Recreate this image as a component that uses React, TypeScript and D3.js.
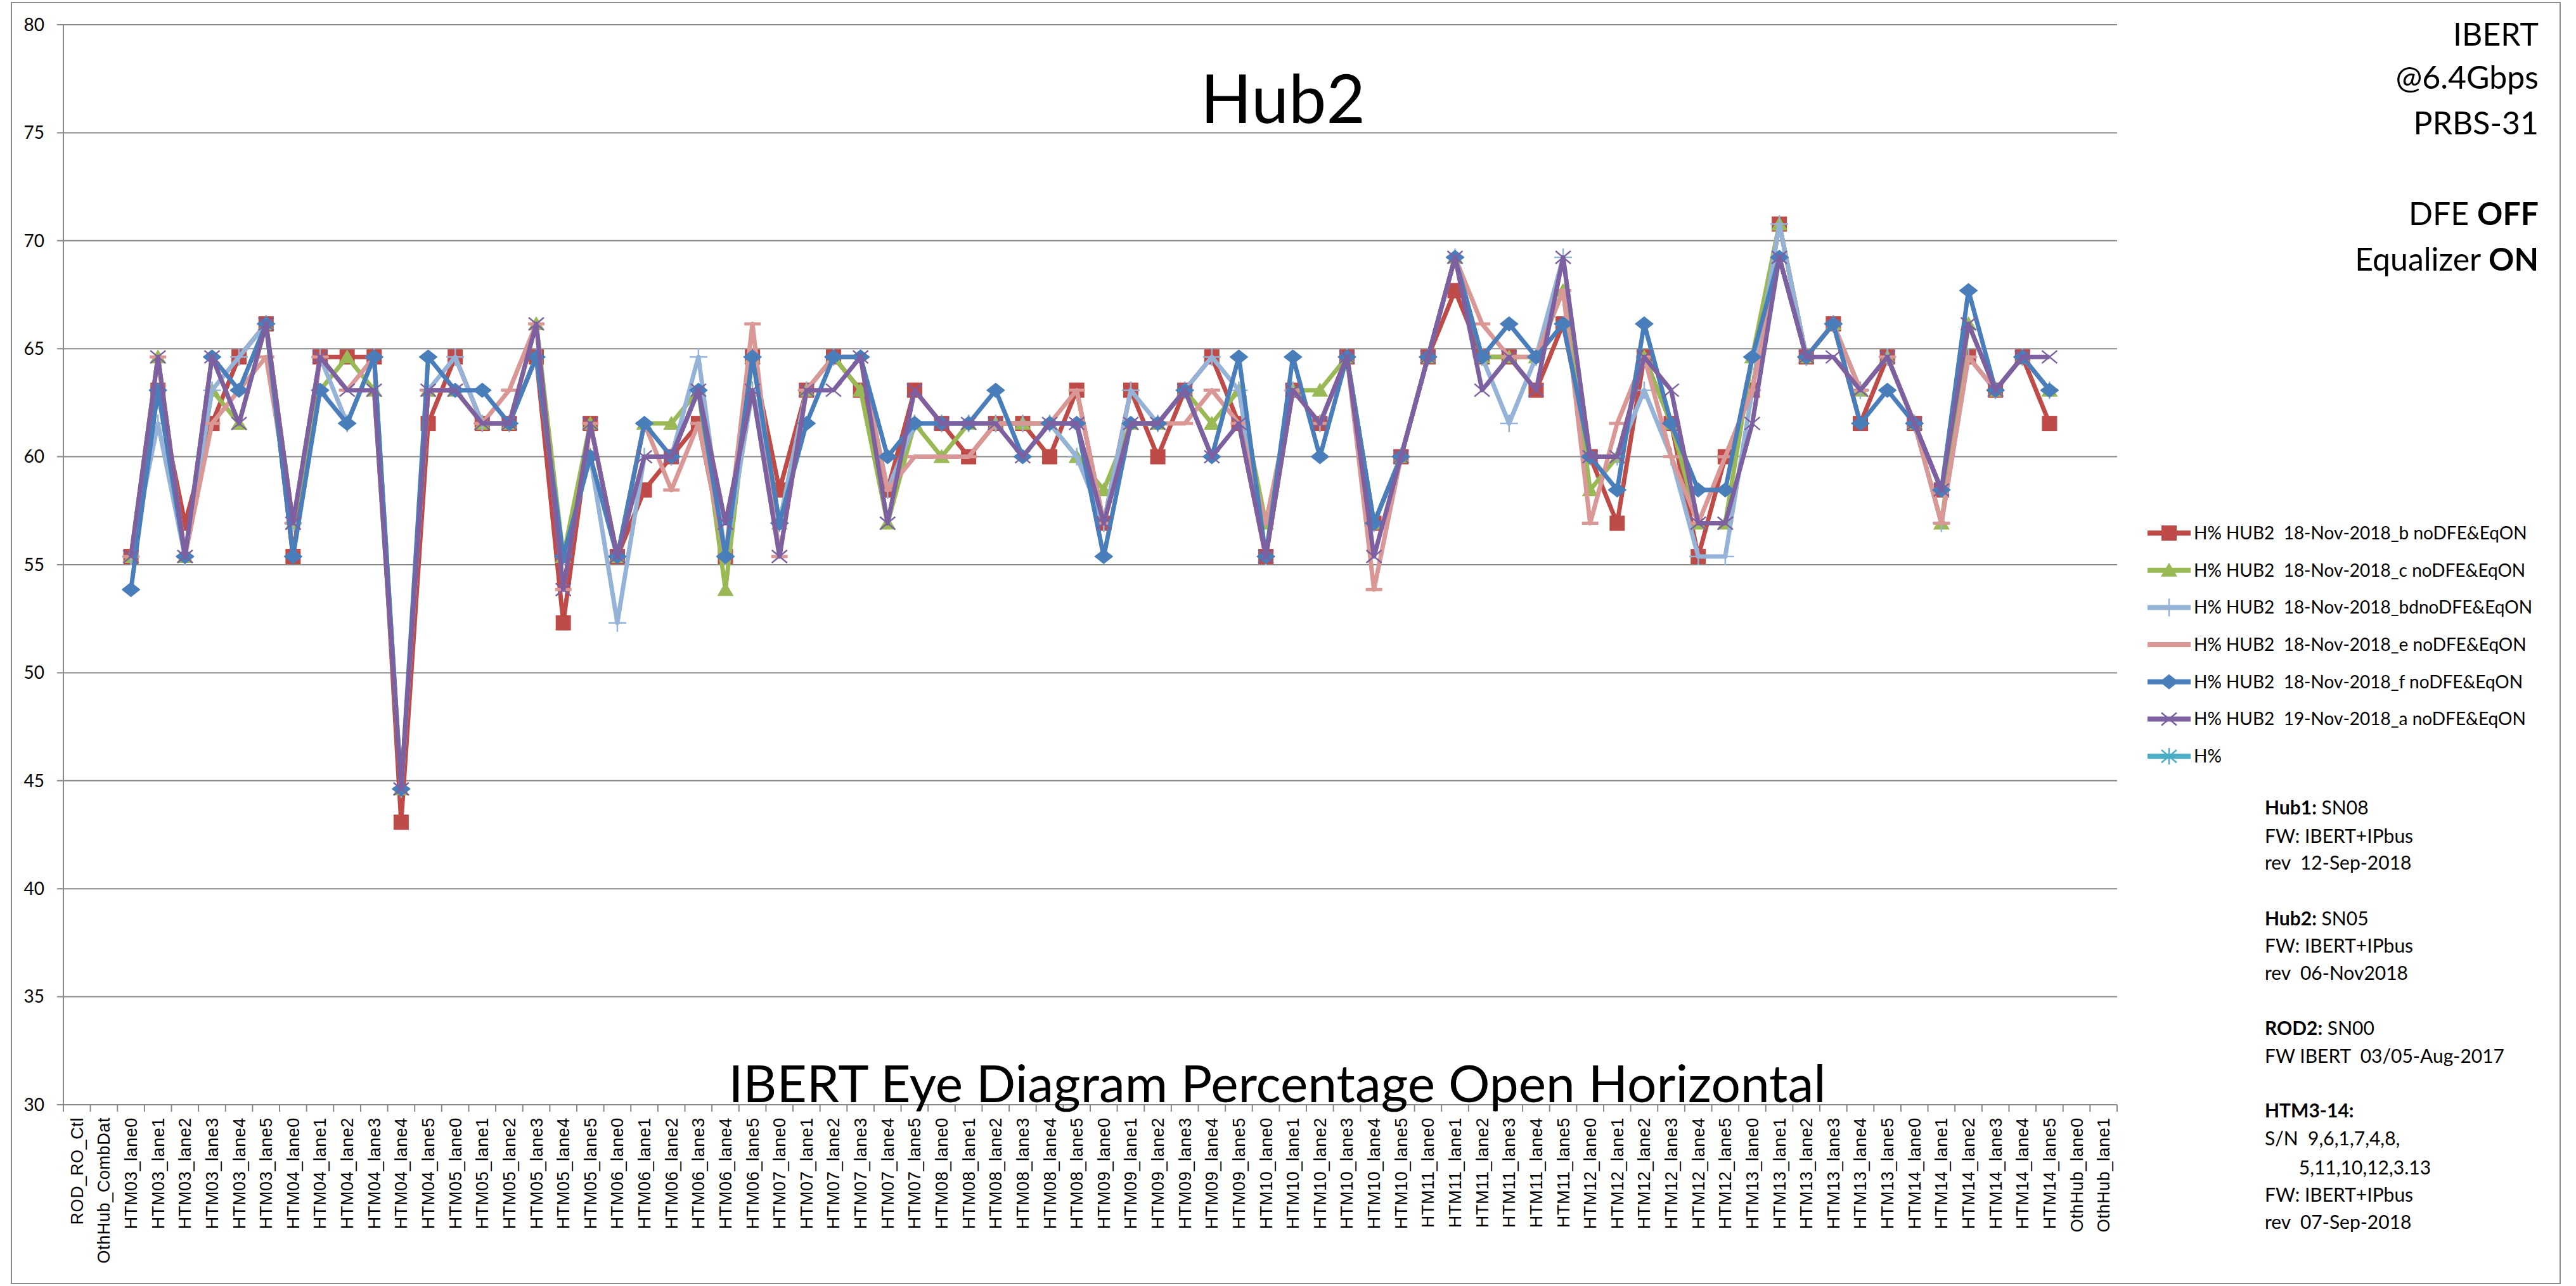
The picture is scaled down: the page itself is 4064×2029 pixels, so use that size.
import { select, scaleBand, scaleLinear, line, range } from 'd3';
import { useEffect, useRef } from 'react';

// x categories (links under test)
const lanes = ['lane0', 'lane1', 'lane2', 'lane3', 'lane4', 'lane5'];
const htms = ['HTM03', 'HTM04', 'HTM05', 'HTM06', 'HTM07', 'HTM08', 'HTM09', 'HTM10', 'HTM11', 'HTM12', 'HTM13', 'HTM14'];
const categories = [
  'ROD_RO_Ctl', 'OthHub_CombDat',
  ...htms.flatMap((h) => lanes.map((l) => `${h}_${l}`)),
  'OthHub_lane0', 'OthHub_lane1',
];

const yTicks = [30, 35, 40, 45, 50, 55, 60, 65, 70, 75, 80];

// H% open values, one per category (null = not measured)
const hub2_b = [null, null,
  55.38, 63.08, 56.92, 61.54, 64.62, 66.15,
  55.38, 64.62, 64.62, 64.62, 43.08, 61.54,
  64.62, 61.54, 61.54, 64.62, 52.31, 61.54,
  55.38, 58.46, 60.0, 61.54, 55.38, 64.62,
  58.46, 63.08, 64.62, 63.08, 58.46, 63.08,
  61.54, 60.0, 61.54, 61.54, 60.0, 63.08,
  56.92, 63.08, 60.0, 63.08, 64.62, 61.54,
  55.38, 63.08, 61.54, 64.62, 56.92, 60.0,
  64.62, 67.69, 64.62, 64.62, 63.08, 66.15,
  60.0, 56.92, 64.62, 61.54, 55.38, 60.0,
  63.08, 70.77, 64.62, 66.15, 61.54, 64.62,
  61.54, 58.46, 64.62, 63.08, 64.62, 61.54,
  null, null];

const hub2_c = [null, null,
  55.38, 64.62, 55.38, 63.08, 61.54, 66.15,
  56.92, 63.08, 64.62, 63.08, 44.62, 63.08,
  63.08, 61.54, 61.54, 66.15, 55.38, 61.54,
  55.38, 61.54, 61.54, 63.08, 53.85, 64.62,
  56.92, 63.08, 64.62, 63.08, 56.92, 61.54,
  60.0, 61.54, 61.54, 61.54, 61.54, 60.0,
  58.46, 61.54, 61.54, 63.08, 61.54, 63.08,
  56.92, 63.08, 63.08, 64.62, 56.92, 60.0,
  64.62, 69.23, 64.62, 64.62, 64.62, 67.69,
  58.46, 60.0, 64.62, 61.54, 56.92, 56.92,
  64.62, 70.77, 64.62, 66.15, 63.08, 64.62,
  61.54, 56.92, 66.15, 63.08, 64.62, 63.08,
  null, null];

const hub2_bd = [null, null,
  55.38, 61.54, 55.38, 63.08, 64.62, 66.15,
  56.92, 64.62, 61.54, 64.62, 44.62, 63.08,
  64.62, 61.54, 61.54, 64.62, 55.38, 60.0,
  52.31, 60.0, 60.0, 64.62, 55.38, 63.08,
  56.92, 63.08, 64.62, 64.62, 58.46, 61.54,
  61.54, 61.54, 61.54, 61.54, 61.54, 60.0,
  56.92, 63.08, 61.54, 63.08, 64.62, 63.08,
  55.38, 63.08, 61.54, 64.62, 56.92, 60.0,
  64.62, 69.23, 64.62, 61.54, 64.62, 69.23,
  60.0, 60.0, 63.08, 60.0, 55.38, 55.38,
  63.08, 70.77, 64.62, 66.15, 63.08, 64.62,
  61.54, 56.92, 64.62, 63.08, 64.62, 63.08,
  null, null];

const hub2_e = [null, null,
  55.38, 64.62, 55.38, 61.54, 63.08, 64.62,
  56.92, 64.62, 63.08, 64.62, 44.62, 63.08,
  63.08, 61.54, 63.08, 66.15, 53.85, 61.54,
  55.38, 61.54, 58.46, 61.54, 55.38, 66.15,
  55.38, 63.08, 64.62, 64.62, 58.46, 60.0,
  60.0, 60.0, 61.54, 61.54, 61.54, 63.08,
  56.92, 61.54, 61.54, 61.54, 63.08, 61.54,
  56.92, 63.08, 61.54, 64.62, 53.85, 60.0,
  64.62, 69.23, 66.15, 64.62, 64.62, 67.69,
  56.92, 61.54, 64.62, 60.0, 56.92, 60.0,
  63.08, 69.23, 64.62, 66.15, 63.08, 64.62,
  61.54, 56.92, 64.62, 63.08, 64.62, 63.08,
  null, null];

const hub2_f = [null, null,
  53.85, 63.08, 55.38, 64.62, 63.08, 66.15,
  55.38, 63.08, 61.54, 64.62, 44.62, 64.62,
  63.08, 63.08, 61.54, 64.62, 55.38, 60.0,
  55.38, 61.54, 60.0, 63.08, 55.38, 64.62,
  56.92, 61.54, 64.62, 64.62, 60.0, 61.54,
  61.54, 61.54, 63.08, 60.0, 61.54, 61.54,
  55.38, 61.54, 61.54, 63.08, 60.0, 64.62,
  55.38, 64.62, 60.0, 64.62, 56.92, 60.0,
  64.62, 69.23, 64.62, 66.15, 64.62, 66.15,
  60.0, 58.46, 66.15, 61.54, 58.46, 58.46,
  64.62, 69.23, 64.62, 66.15, 61.54, 63.08,
  61.54, 58.46, 67.69, 63.08, 64.62, 63.08,
  null, null];

const hub2_a = [null, null,
  55.38, 64.62, 55.38, 64.62, 61.54, 66.15,
  56.92, 64.62, 63.08, 63.08, 44.62, 63.08,
  63.08, 61.54, 61.54, 66.15, 53.85, 61.54,
  55.38, 60.0, 60.0, 63.08, 56.92, 63.08,
  55.38, 63.08, 63.08, 64.62, 56.92, 63.08,
  61.54, 61.54, 61.54, 60.0, 61.54, 61.54,
  56.92, 61.54, 61.54, 63.08, 60.0, 61.54,
  55.38, 63.08, 61.54, 64.62, 55.38, 60.0,
  64.62, 69.23, 63.08, 64.62, 63.08, 69.23,
  60.0, 60.0, 64.62, 63.08, 56.92, 56.92,
  61.54, 69.23, 64.62, 64.62, 63.08, 64.62,
  61.54, 58.46, 66.15, 63.08, 64.62, 64.62,
  null, null];

const seriesNames = [
  'H% HUB2  18-Nov-2018_b noDFE&EqON',
  'H% HUB2  18-Nov-2018_c noDFE&EqON',
  'H% HUB2  18-Nov-2018_bdnoDFE&EqON',
  'H% HUB2  18-Nov-2018_e noDFE&EqON',
  'H% HUB2  18-Nov-2018_f noDFE&EqON',
  'H% HUB2  19-Nov-2018_a noDFE&EqON',
  'H%',
];
const seriesValues: (number | null)[][] = [hub2_b, hub2_c, hub2_bd, hub2_e, hub2_f, hub2_a, []];
const seriesColors = ['#BE4B48', '#98B954', '#95B3D7', '#D99795', '#4A7EBB', '#7D60A0', '#4BACC6'];
const seriesMarkers = ['square', 'triangle', 'plus', 'dash', 'diamond', 'x', 'star'];

const W = 4064;
const H = 2029;
const CAL = 'Lato, "Open Sans", sans-serif';

function drawMarker(g: any, kind: string, color: string, cx: number, cy: number) {
  if (kind === 'square') {
    g.append('rect').attr('x', cx - 12).attr('y', cy - 12).attr('width', 24).attr('height', 24).attr('fill', color);
  } else if (kind === 'triangle') {
    g.append('path').attr('d', `M${cx},${cy - 12}L${cx + 13},${cy + 10}L${cx - 13},${cy + 10}Z`).attr('fill', color);
  } else if (kind === 'diamond') {
    g.append('path').attr('d', `M${cx},${cy - 12}L${cx + 15},${cy}L${cx},${cy + 12}L${cx - 15},${cy}Z`).attr('fill', color);
  } else if (kind === 'plus') {
    g.append('path').attr('d', `M${cx - 14},${cy}H${cx + 14}M${cx},${cy - 14}V${cy + 14}`).attr('stroke', color).attr('stroke-width', 2.5);
  } else if (kind === 'dash') {
    g.append('path').attr('d', `M${cx - 13},${cy}H${cx + 13}`).attr('stroke', color).attr('stroke-width', 5);
  } else if (kind === 'x') {
    g.append('path').attr('d', `M${cx - 12},${cy - 10}L${cx + 12},${cy + 10}M${cx - 12},${cy + 10}L${cx + 12},${cy - 10}`).attr('stroke', color).attr('stroke-width', 2.5);
  } else if (kind === 'star') {
    g.append('path').attr('d', `M${cx - 12},${cy - 10}L${cx + 12},${cy + 10}M${cx - 12},${cy + 10}L${cx + 12},${cy - 10}M${cx},${cy - 13}V${cy + 13}`).attr('stroke', color).attr('stroke-width', 2.5);
  }
}

export default function App() {
  const svgRef = useRef<SVGSVGElement | null>(null);

  useEffect(() => {
    if (!svgRef.current) return;
    const svg = select(svgRef.current);
    svg.selectAll('*').remove();

    const left = 100, right = 3340, top = 39, bottom = 1743;

    const x = scaleBand<string>().domain(categories).range([left, right]).padding(0);
    const y = scaleLinear().domain([30, 80]).range([bottom, top]);
    const cx = (c: string) => (x(c) || 0) + x.bandwidth() / 2;

    svg.append('rect').attr('width', W).attr('height', H).attr('fill', '#fff');
    svg.append('rect').attr('x', 18).attr('y', 4).attr('width', 4021).attr('height', 2021)
      .attr('fill', 'none').attr('stroke', '#8c8c8c').attr('stroke-width', 2);

    // grid + y axis
    const grid = svg.append('g');
    yTicks.forEach((t) => {
      grid.append('line').attr('x1', left - 10).attr('x2', right).attr('y1', y(t)).attr('y2', y(t))
        .attr('stroke', '#888').attr('stroke-width', 2);
      grid.append('text').attr('x', 70).attr('y', y(t)).attr('dy', '0.35em').attr('text-anchor', 'end')
        .attr('font-family', CAL).attr('font-size', 28).attr('fill', '#000').text(t);
    });
    grid.append('line').attr('x1', left).attr('x2', left).attr('y1', top).attr('y2', bottom)
      .attr('stroke', '#888').attr('stroke-width', 2);

    // x ticks + labels
    range(categories.length + 1).forEach((i) => {
      const xx = left + i * x.bandwidth();
      grid.append('line').attr('x1', xx).attr('x2', xx).attr('y1', bottom).attr('y2', bottom + 11)
        .attr('stroke', '#888').attr('stroke-width', 2);
    });
    categories.forEach((c) => {
      grid.append('text').attr('transform', `translate(${cx(c)},${bottom + 20}) rotate(-90)`)
        .attr('dy', '0.35em').attr('text-anchor', 'end')
        .attr('font-family', '"Liberation Sans", Arial, sans-serif').attr('font-size', 27)
        .attr('letter-spacing', 0.6)
        .attr('fill', '#000').text(c);
    });

    // series
    const plot = svg.append('g');
    seriesValues.forEach((vals, s) => {
      const pts = vals.map((v, i) => ({ c: categories[i], v }));
      const path = line<{ c: string; v: number | null }>()
        .defined((d) => d.v != null)
        .x((d) => cx(d.c))
        .y((d) => y(d.v as number));
      plot.append('path').datum(pts).attr('d', path).attr('fill', 'none')
        .attr('stroke', seriesColors[s]).attr('stroke-width', 7).attr('stroke-linejoin', 'round');
      const mg = plot.append('g');
      pts.filter((d) => d.v != null).forEach((d) => drawMarker(mg, seriesMarkers[s], seriesColors[s], cx(d.c), y(d.v as number)));
    });

    // titles
    svg.append('text').attr('x', 2024).attr('y', 194).attr('text-anchor', 'middle')
      .attr('font-family', CAL).attr('font-size', 106).attr('fill', '#000').text('Hub2');
    svg.append('text').attr('x', 2015).attr('y', 1739).attr('text-anchor', 'middle')
      .attr('font-family', CAL).attr('font-size', 82).attr('fill', '#000')
      .text('IBERT Eye Diagram Percentage Open Horizontal');

    // top-right annotation
    const ann = svg.append('g').attr('font-family', CAL).attr('font-size', 50).attr('text-anchor', 'end').attr('fill', '#000');
    ann.append('text').attr('x', 4005).attr('y', 72).text('IBERT');
    ann.append('text').attr('x', 4005).attr('y', 140).text('@6.4Gbps');
    ann.append('text').attr('x', 4005).attr('y', 212).text('PRBS-31');
    const dfe = ann.append('text').attr('x', 4005).attr('y', 355);
    dfe.append('tspan').text('DFE ');
    dfe.append('tspan').attr('font-weight', 'bold').text('OFF');
    const eq = ann.append('text').attr('x', 4005).attr('y', 427);
    eq.append('tspan').text('Equalizer ');
    eq.append('tspan').attr('font-weight', 'bold').text('ON');

    // legend
    const leg = svg.append('g');
    seriesNames.forEach((name, s) => {
      const ly = 841 + s * 58.7;
      leg.append('line').attr('x1', 3388).attr('x2', 3456).attr('y1', ly).attr('y2', ly)
        .attr('stroke', seriesColors[s]).attr('stroke-width', 8);
      drawMarker(leg, seriesMarkers[s], seriesColors[s], 3422, ly);
      leg.append('text').attr('x', 3461).attr('y', ly).attr('dy', '0.35em')
        .style('white-space', 'pre')
        .attr('font-family', CAL).attr('font-size', 28).attr('fill', '#000').text(name);
    });

    // hardware notes
    const notes: [string, string, number][] = [
      ['Hub1:', ' SN08', 1285], ['', 'FW: IBERT+IPbus', 1330], ['', 'rev  12-Sep-2018', 1372],
      ['Hub2:', ' SN05', 1460], ['', 'FW: IBERT+IPbus', 1503], ['', 'rev  06-Nov2018', 1546],
      ['ROD2:', ' SN00', 1633], ['', 'FW IBERT  03/05-Aug-2017', 1677],
      ['HTM3-14:', '', 1763], ['', 'S/N  9,6,1,7,4,8,', 1807], ['', '       5,11,10,12,3.13', 1853],
      ['', 'FW: IBERT+IPbus', 1896], ['', 'rev  07-Sep-2018', 1939],
    ];
    const ng = svg.append('g').attr('font-family', CAL).attr('font-size', 30).attr('fill', '#000');
    notes.forEach(([b, t, ny]) => {
      const tx = ng.append('text').attr('x', 3573).attr('y', ny).style('white-space', 'pre');
      if (b) tx.append('tspan').attr('font-weight', 'bold').text(b);
      if (t) tx.append('tspan').text(t);
    });
  }, []);

  return <svg ref={svgRef} width={W} height={H} style={{ position: 'absolute', left: 0, top: 0 }} />;
}
